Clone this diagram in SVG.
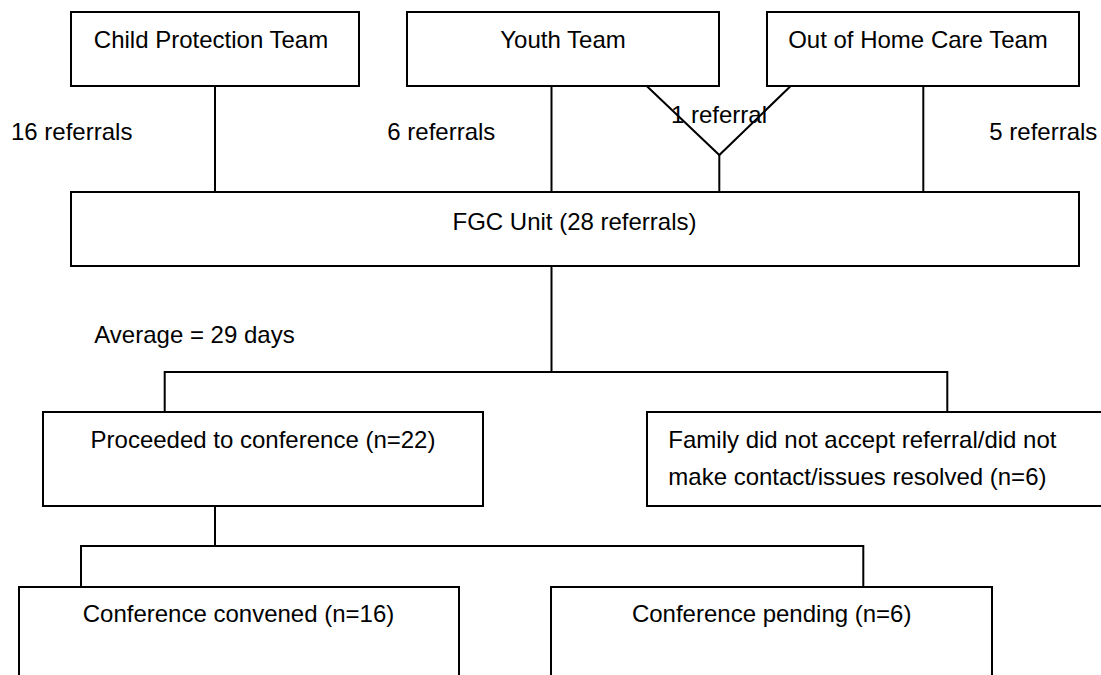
<svg xmlns="http://www.w3.org/2000/svg" width="1101" height="675" viewBox="0 0 1101 675">
<style>
.box{fill:#fff;stroke:#000;stroke-width:2}
.t{font-family:"Liberation Sans",Arial,sans-serif;font-size:24px;fill:#000}
.c{text-anchor:middle}
.ln{fill:none;stroke:#000;stroke-width:2}
</style>
<rect width="1101" height="675" fill="#fff"/>
<g id="child-protection"><rect class="box" x="71" y="12" width="288" height="74"/><text class="t c" x="211" y="47.7">Child Protection Team</text></g>
<g id="youth"><rect class="box" x="407" y="12" width="312" height="74"/><text class="t c" x="563" y="47.7">Youth Team</text></g>
<g id="ooh"><rect class="box" x="767" y="12" width="312" height="74"/><text class="t c" x="918" y="47.7">Out of Home Care Team</text></g>
<g id="fgc"><rect class="box" x="71" y="192" width="1008" height="74"/><text class="t c" x="574.5" y="230">FGC Unit (28 referrals)</text></g>
<g id="proceeded"><rect class="box" x="43" y="412" width="440" height="94"/><text class="t c" x="263" y="447.7">Proceeded to conference (n=22)</text></g>
<g id="family"><rect class="box" x="647" y="412" width="470" height="94"/><text class="t" x="668.3" y="447.7">Family did not accept referral/did not</text><text class="t" x="668.3" y="485">make contact/issues resolved (n=6)</text></g>
<g id="convened"><rect class="box" x="19" y="587" width="440" height="110"/><text class="t c" x="238.5" y="621.7">Conference convened (n=16)</text></g>
<g id="pending"><rect class="box" x="551" y="587" width="441" height="110"/><text class="t c" x="771.7" y="621.7">Conference pending (n=6)</text></g>
<g id="labels">
<text class="t" x="11" y="140">16 referrals</text>
<text class="t" x="387.3" y="140">6 referrals</text>
<text class="t" x="671" y="122.7">1 referral</text>
<text class="t" x="989.3" y="140">5 referrals</text>
<text class="t" x="94.3" y="343.3">Average = 29 days</text>
</g>
<g id="connectors">
<line class="ln" x1="215" y1="86" x2="215" y2="192"/>
<line class="ln" x1="551.5" y1="86" x2="551.5" y2="192"/>
<polyline class="ln" points="646.7,86 719.3,155 790.7,86"/>
<line class="ln" x1="719.3" y1="155" x2="719.3" y2="192"/>
<line class="ln" x1="923.3" y1="86" x2="923.3" y2="192"/>
<line class="ln" x1="551.5" y1="266" x2="551.5" y2="372"/>
<polyline class="ln" points="164.7,412 164.7,372 947.3,372 947.3,412"/>
<line class="ln" x1="215" y1="506" x2="215" y2="546"/>
<polyline class="ln" points="81,587 81,546 863.3,546 863.3,587"/>
</g>
</svg>
